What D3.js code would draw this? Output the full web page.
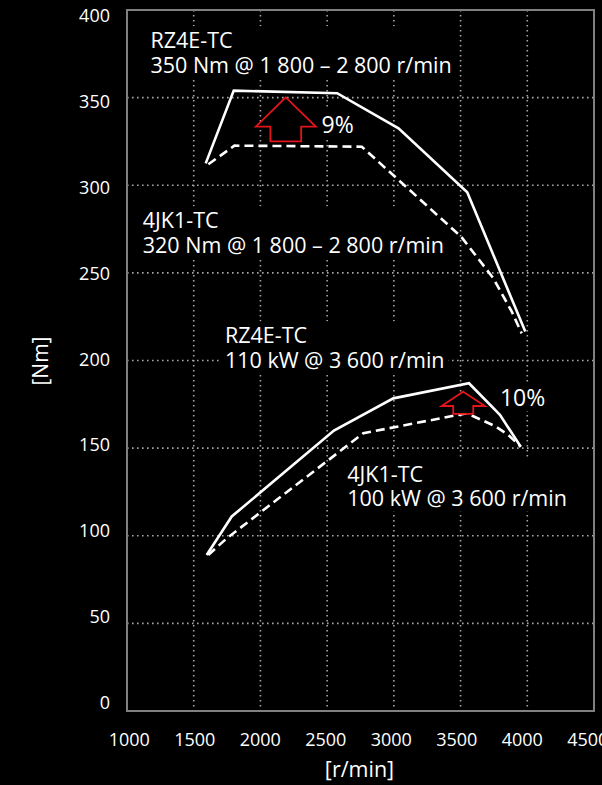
<!DOCTYPE html>
<html>
<head>
<meta charset="utf-8">
<script src="https://cdn.jsdelivr.net/npm/d3@7"></script>
<style>
  html, body { margin: 0; padding: 0; background: #000; }
  svg { display: block; }
  text { font-family: "Open Sans", "Noto Sans", sans-serif; fill: #fff; }
</style>
</head>
<body>
<svg id="chart" width="602" height="785"></svg>
<script>
// ---------- data ----------
const rpmTicks = [1000, 1500, 2000, 2500, 3000, 3500, 4000, 4500];
const valueTicks = [0, 50, 100, 150, 200, 250, 300, 350, 400];
const gridRpm = [1500, 2000, 2500, 3000, 3500, 4000];
const gridValue = [50, 100, 150, 200, 250, 300, 350];

// torque [Nm] vs engine speed [r/min]
const torqueRZ4E = [[1590, 312.5], [1800, 354], [2575, 352.5], [3035, 332.5], [3550, 296], [3985, 216.5]];
const torque4JK1 = [[1610, 312], [1805, 322.6], [2760, 322], [3505, 270.6], [3745, 247], [3883, 228], [3958, 215.5]];
// power [kW] vs engine speed [r/min]
const powerRZ4E = [[1597, 89], [1785, 111], [2551, 160], [2996, 178.4], [3563, 187], [3795, 169], [3951, 150.8]];
const power4JK1 = [[1609, 89], [1747, 98.5], [2771, 158.5], [3546, 169.9], [3758, 162.6], [3858, 157.5], [3951, 150.8]];

const labelLines = [
  ["RZ4E-TC", "350 Nm @ 1 800 – 2 800 r/min"],
  ["4JK1-TC", "320 Nm @ 1 800 – 2 800 r/min"],
  ["RZ4E-TC", "110 kW @ 3 600 r/min"],
  ["4JK1-TC", "100 kW @ 3 600 r/min"]
];
const labelAnchors = [[1176, 378.2], [1118, 275.4], [1734, 209.8], [2651, 130.8]]; // [rpm, value] of first baseline
const percentTexts = ["9%", "10%"];
const percentAnchors = [[2458, 330], [3795, 174]];
const arrowTips = [[2190, 350.2], [3520, 182.2]];
const arrowBases = [[2190, 325], [3520, 169.5]];

// ---------- layout ----------
const svg = d3.select("#chart");
const W = 602, H = 785;
svg.append("rect").attr("width", W).attr("height", H).attr("fill", "#000");

const x = d3.scaleLinear().domain([1000, 4500]).range([127, 594]);
const y = d3.scaleLinear().domain([0, 400]).range([711, 10]);
// tick labels sit on a slightly different spacing in the source
const xl = d3.scaleLinear().domain([1000, 4500]).range([128.8, 587.3]);
const yl = d3.scaleLinear().domain([0, 400]).range([702.6, 16]);

// grid
const grid = svg.append("g").attr("stroke", "#a6a6a6").attr("stroke-width", 1.6)
  .attr("stroke-dasharray", "1.6,3.4");
grid.selectAll("line.v").data(gridRpm).join("line").attr("class", "v")
  .attr("x1", d => x(d)).attr("x2", d => x(d)).attr("y1", y(400)).attr("y2", y(0));
grid.selectAll("line.h").data(gridValue).join("line").attr("class", "h")
  .attr("x1", x(1000)).attr("x2", x(4500)).attr("y1", d => y(d)).attr("y2", d => y(d));

// frame
svg.append("rect").attr("x", x(1000)).attr("y", y(400))
  .attr("width", x(4500) - x(1000)).attr("height", y(0) - y(400))
  .attr("fill", "none").attr("stroke", "#808080").attr("stroke-width", 2);

// tick labels
const xAxis = svg.append("g").attr("transform", `translate(0,${746 - 13})`)
  .call(d3.axisBottom(xl).tickValues(rpmTicks).tickSize(0).tickFormat(d3.format("d")));
xAxis.select(".domain").remove();
xAxis.selectAll("text").attr("font-size", 18).attr("fill", "#fff")
  .attr("font-family", "Open Sans, sans-serif").attr("dy", "0.71em").attr("y", 0);

const yAxis = svg.append("g").attr("transform", `translate(110,0)`)
  .call(d3.axisLeft(yl).tickValues(valueTicks).tickSize(0).tickFormat(d3.format("d")));
yAxis.select(".domain").remove();
yAxis.selectAll("text").attr("font-size", 18).attr("fill", "#fff")
  .attr("font-family", "Open Sans, sans-serif").attr("x", 0);

// axis titles
svg.append("text").attr("transform", "translate(48,361) rotate(-90)")
  .attr("text-anchor", "middle").attr("font-size", 21).text("[Nm]");
svg.append("text").attr("x", 359.5).attr("y", 777)
  .attr("text-anchor", "middle").attr("font-size", 21.5).text("[r/min]");

// annotation text blocks (with black backing that interrupts the grid)
const ann = svg.append("g");
labelLines.forEach((lines, i) => {
  const g = ann.append("g");
  const bx = x(labelAnchors[i][0]), by = y(labelAnchors[i][1]);
  const t = g.append("text").attr("font-size", 21.5);
  lines.forEach((s, j) => t.append("tspan").attr("x", bx).attr("y", by + j * 24.7).text(s));
  const bb = t.node().getBBox();
  g.insert("rect", "text").attr("x", bb.x - 4).attr("y", bb.y + 1)
    .attr("width", bb.width + 8).attr("height", bb.height - 2).attr("fill", "#000");
});

// curves
const line = d3.line().x(d => x(d[0])).y(d => y(d[1]));
const curves = svg.append("g").attr("fill", "none").attr("stroke", "#fff")
  .attr("stroke-width", 2.6).attr("stroke-linejoin", "miter");
curves.append("path").datum(torqueRZ4E).attr("d", line);
curves.append("path").datum(powerRZ4E).attr("d", line);
curves.append("path").datum(torque4JK1).attr("d", line).attr("stroke-dasharray", "9,5");
curves.append("path").datum(power4JK1).attr("d", line).attr("stroke-dasharray", "9,5");

// red arrows
const arrowDims = [[30, 15.4, 29.4], [21.7, 10, 14.3]]; // head half-width, shaft half-width, head length (px)
arrowTips.forEach((tip, i) => {
  const tx = x(tip[0]), ty = y(tip[1]), by = y(arrowBases[i][1]);
  const [hw, sw, hl] = arrowDims[i];
  const pts = [[tx, ty], [tx + hw, ty + hl], [tx + sw, ty + hl], [tx + sw, by],
               [tx - sw, by], [tx - sw, ty + hl], [tx - hw, ty + hl]];
  svg.append("path").attr("d", "M" + pts.map(p => p.join(",")).join("L") + "Z")
    .attr("fill", "#000").attr("stroke", "#e4141b").attr("stroke-width", 1.8)
    .attr("stroke-linejoin", "miter");
});

// percentage labels
percentTexts.forEach((s, i) => {
  const g = svg.append("g");
  const t = g.append("text").attr("x", x(percentAnchors[i][0])).attr("y", y(percentAnchors[i][1]))
    .attr("font-size", 23).text(s);
  const bb = t.node().getBBox();
  g.insert("rect", "text").attr("x", bb.x - 2).attr("y", bb.y + 2)
    .attr("width", bb.width + 4).attr("height", bb.height - 4).attr("fill", "#000");
});
</script>
</body>
</html>
